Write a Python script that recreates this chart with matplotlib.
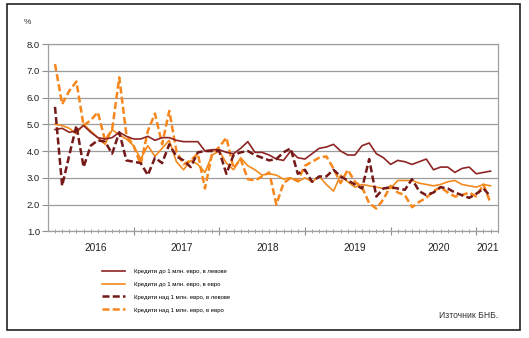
import numpy as np
import matplotlib
matplotlib.use('Agg')
import matplotlib.pyplot as plt
from matplotlib.patches import Rectangle

plt.rcParams['font.family'] = ['Liberation Sans', 'DejaVu Sans']

# месечни лихвени проценти, янв. 2016 - фев. 2021
lev_do_1 = [4.8, 4.85, 4.7, 4.75, 4.95, 4.7, 4.5, 4.45, 4.5, 4.7, 4.55, 4.45, 4.45, 4.55, 4.4, 4.5,
            4.5, 4.4, 4.35, 4.35, 4.35, 4.0, 4.05, 4.05, 3.95, 3.9, 4.1, 4.35, 3.95, 3.95, 3.85,
            3.7, 3.65, 4.0, 3.75, 3.7, 3.9, 4.1, 4.15, 4.25, 4.0, 3.85, 3.85, 4.2, 4.3, 3.9, 3.75,
            3.5, 3.65, 3.6, 3.5, 3.6, 3.7, 3.3, 3.4, 3.4, 3.2, 3.35, 3.4, 3.15, 3.2, 3.25]
evro_do_1 = [5.0, 4.95, 4.85, 4.65, 5.0, 4.75, 4.5, 4.25, 4.8, 4.6, 4.45, 4.2, 3.7, 4.2, 3.8, 4.1,
             4.4, 3.6, 3.3, 3.65, 3.5, 3.2, 3.85, 4.0, 3.55, 3.3, 3.75, 3.45, 3.3, 3.1, 3.15,
             3.1, 2.95, 3.0, 2.85, 3.0, 2.85, 3.05, 2.75, 2.5, 3.1, 2.85, 2.65, 2.75, 2.7, 2.65, 2.6,
             2.6, 2.9, 2.9, 2.9, 2.8, 2.75, 2.7, 2.75, 2.85, 2.9, 2.75, 2.7, 2.65, 2.75, 2.7]
lev_nad_1 = [5.65, 2.7, 3.85, 4.95, 3.4, 4.2, 4.4, 4.35, 3.9, 4.7, 3.65, 3.6, 3.55, 3.1, 3.75, 3.55,
             4.25, 3.8, 3.65, 3.4, 3.95, 4.0, 4.0, 4.0, 3.15, 3.85, 3.95, 4.0, 3.85, 3.75, 3.65,
             3.7, 3.95, 4.1, 3.15, 3.3, 2.85, 3.05, 3.05, 3.3, 3.05, 2.9, 2.75, 2.6, 3.7, 2.3, 2.6,
             2.65, 2.6, 2.55, 2.95, 2.5, 2.35, 2.45, 2.65, 2.6, 2.45, 2.35, 2.25, 2.4, 2.6, 2.3]
evro_nad_1 = [7.25, 5.75, 6.25, 6.6, 4.95, 5.15, 5.45, 4.4, 4.8, 6.75, 4.6, 4.2, 3.5, 4.75, 5.4, 4.25,
              5.5, 4.0, 3.5, 3.65, 3.9, 2.6, 3.9, 4.15, 4.5, 3.35, 3.7, 2.95, 2.9, 3.05, 3.2,
              2.0, 2.8, 3.0, 2.9, 3.45, 3.6, 3.75, 3.8, 3.35, 2.8, 3.3, 2.85, 2.65, 2.05, 1.85, 2.2,
              2.7, 2.45, 2.35, 1.9, 2.1, 2.25, 2.5, 2.65, 2.45, 2.3, 2.35, 2.45, 2.3, 2.75, 2.05]

etiketi = ['Кредити до 1 млн. евро, в левове', 'Кредити до 1 млн. евро, в евро',
           'Кредити над 1 млн. евро, в левове', 'Кредити над 1 млн. евро, в евро']
godini = ['2016', '2017', '2018', '2019', '2020', '2021']
godini_poz = [5.7, 17.8, 29.8, 41.9, 53.8, 60.6]
y_ticks = [1.0, 2.0, 3.0, 4.0, 5.0, 6.0, 7.0, 8.0]

fig = plt.figure(figsize=(5.29, 3.38), dpi=100)
ax = fig.add_axes([48.3 / 529, 1 - 231.3 / 338, (498 - 48.3) / 529, (231.3 - 44) / 338])

x = np.arange(len(lev_do_1))
ax.plot(x, lev_do_1, color='#8E2424', lw=1.2, label=etiketi[0], zorder=4)
ax.plot(x, evro_do_1, color='#F28A1E', lw=1.2, label=etiketi[1], zorder=3)
ax.plot(x, lev_nad_1, color='#741818', lw=1.8, ls=(0, (2.8, 1.3)), label=etiketi[2], zorder=5)
ax.plot(x, evro_nad_1, color='#F7861C', lw=1.8, ls=(0, (2.8, 1.3)), label=etiketi[3], zorder=2)

ax.set_xlim(-0.94, 62.04)
ax.set_ylim(1, 8)
ax.set_yticks(y_ticks)
ax.set_yticklabels([f'{v:.1f}' for v in y_ticks], fontsize=6.8, color='#222222')
ax.grid(axis='y', color='#9C9C9C', lw=0.9)
ax.set_axisbelow(True)
for s in ax.spines.values():
    s.set_color('#A0A0A0')
    s.set_linewidth(0.9)

ax.set_xticks([11, 23, 35, 47, 59])
ax.set_xticks(range(0, 63), minor=True)
ax.set_xticklabels([])
ax.tick_params(axis='x', which='major', direction='inout', length=6, color='#909090', width=0.8)
ax.tick_params(axis='x', which='minor', direction='inout', length=2.5, color='#909090', width=0.6)
ax.tick_params(axis='y', direction='out', length=4, color='#909090', width=0.8, pad=2)

for g, p in zip(godini, godini_poz):
    ax.text(p, -0.09, g, transform=ax.get_xaxis_transform(), ha='center', va='center',
            fontsize=7.3, color='#222222')

fig.text(27 / 529, 1 - 23 / 338, '%', fontsize=6, color='#333333', ha='center', va='center')

fig.legend(loc='upper left', bbox_to_anchor=(102 / 529, 1 - 268.5 / 338), frameon=False,
           fontsize=4.3, handlelength=3.8, handletextpad=1.5, labelspacing=1.3,
           borderpad=0, borderaxespad=0)

fig.text(498 / 529, 1 - 316 / 338, 'Източник БНБ.', fontsize=6.2, color='#333333',
         ha='right', va='center')

fig.patches.append(Rectangle((7 / 529, 8 / 338), 513 / 529, 326 / 338, transform=fig.transFigure,
                             fill=False, edgecolor='#222222', lw=1.2))

fig.savefig('out.png', dpi=100)
